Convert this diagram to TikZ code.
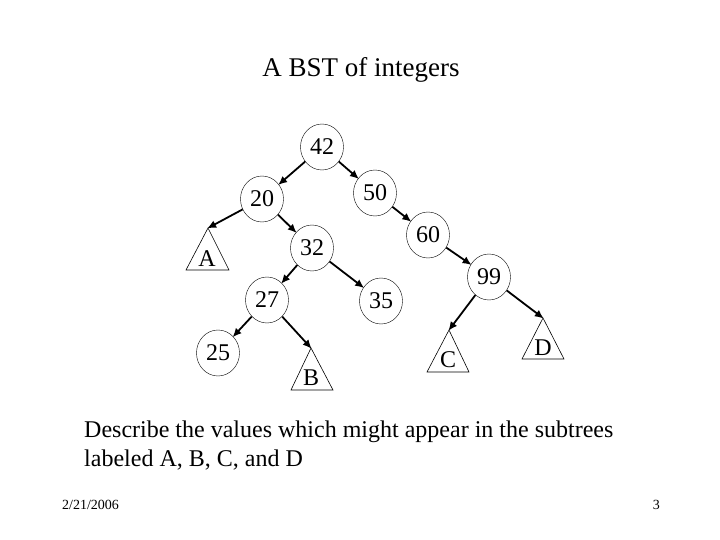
\documentclass[tikz,border=0pt]{standalone}
\usepackage{fontspec}
\setmainfont{Liberation Serif}
\usetikzlibrary{shapes.geometric,arrows.meta}
\begin{document}
\begin{tikzpicture}[x=1pt,y=-1pt,
  bstnode/.style={draw,ellipse,minimum width=43pt,minimum height=46pt,inner sep=0pt,font=\fontsize{24}{28}\selectfont},
  trilabel/.style={inner sep=0pt,font=\fontsize{24}{28}\selectfont},
  tri/.style={draw,line width=0.6pt},
  txt/.style={inner sep=0pt},
  edge/.style={line width=1.8pt,-{Latex[length=9pt,width=8pt]},shorten >=-1pt}]
\useasboundingbox (0,0) rectangle (720,540);
\node[txt,font=\fontsize{27}{32}\selectfont] (title) at (361,70) {A BST of integers};
% nodes
\node[bstnode] (n42) at (322,147) {42};
\node[bstnode] (n20) at (262,199) {20};
\node[bstnode] (n50) at (375,193) {50};
\node[bstnode] (n60) at (428,235) {60};
\node[bstnode] (n32) at (312,248) {32};
\node[bstnode] (n27) at (267,300) {27};
\node[bstnode] (n35) at (381,301) {35};
\node[bstnode] (n25) at (218,353) {25};
\node[bstnode] (n99) at (489,277) {99};
% triangles
\coordinate (tA) at (208,228);
\draw[tri] (tA) -- (229,270) -- (186,270) -- cycle;
\node[trilabel] (lA) at (207,259) {A};
\coordinate (tB) at (311,348);
\draw[tri] (tB) -- (333,390) -- (291,390) -- cycle;
\node[trilabel] (lB) at (311,378) {B};
\coordinate (tC) at (449,330);
\draw[tri] (tC) -- (469,372) -- (427,372) -- cycle;
\node[trilabel] (lC) at (448,360) {C};
\coordinate (tD) at (543,318);
\draw[tri] (tD) -- (564,359) -- (522,359) -- cycle;
\node[trilabel] (lD) at (543,348) {D};
% edges
\draw[edge] (n42) -- (n20);
\draw[edge] (n42) -- (n50);
\draw[edge] (n20) -- (tA);
\draw[edge] (n20) -- (n32);
\draw[edge] (n50) -- (n60);
\draw[edge] (n60) -- (n99);
\draw[edge] (n32) -- (n27);
\draw[edge] (n32) -- (n35);
\draw[edge] (n27) -- (n25);
\draw[edge] (n27) -- (tB);
\draw[edge] (n99) -- (tC);
\draw[edge] (n99) -- (tD);
% description
\node[txt,anchor=base west,font=\fontsize{24}{30}\selectfont] (desc1) at (84,437) {Describe the values which might appear in the subtrees};
\node[txt,anchor=base west,font=\fontsize{24}{30}\selectfont] (desc2) at (84,466) {labeled A, B, C, and D};
% footer
\node[txt,anchor=base west,font=\fontsize{14}{16}\selectfont] (date) at (62,509) {2/21/2006};
\node[txt,anchor=base east,font=\fontsize{14}{16}\selectfont] (page) at (660,509) {3};
\end{tikzpicture}
\end{document}
